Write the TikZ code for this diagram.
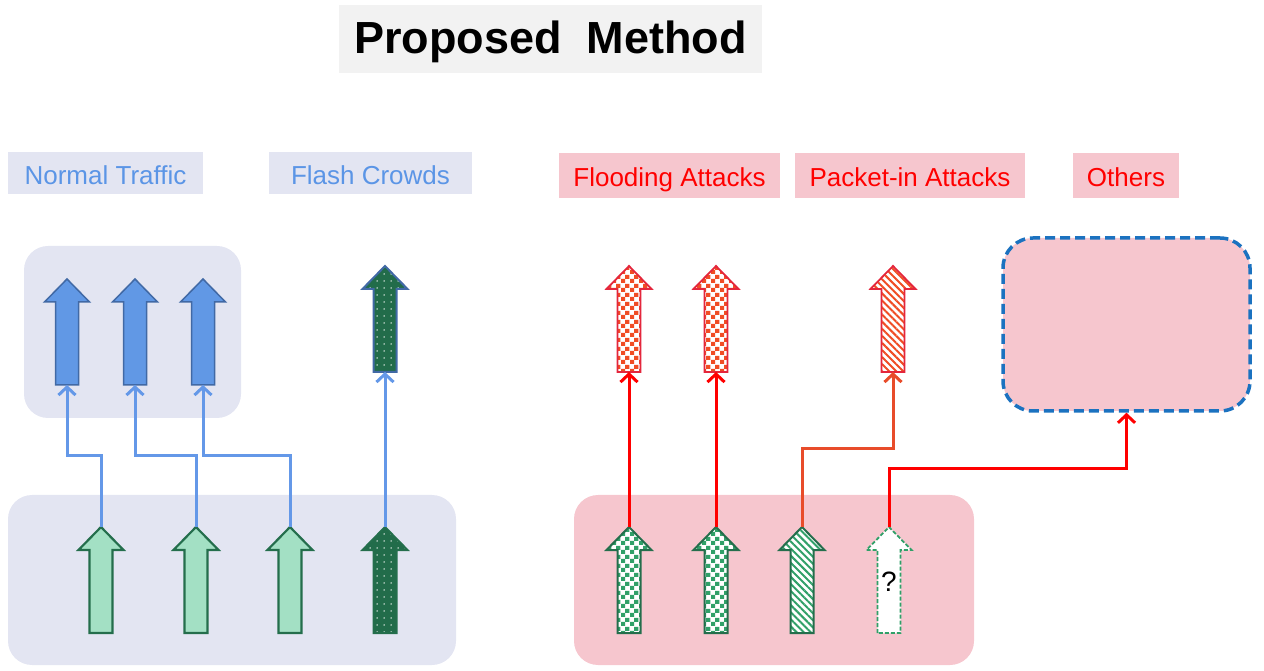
\documentclass[tikz,border=0pt]{standalone}
\usepackage{fontspec}
\setmainfont{Liberation Sans}
\usetikzlibrary{arrows.meta,patterns,patterns.meta}
\definecolor{lav}{RGB}{227,229,242}
\definecolor{pinkbg}{RGB}{246,198,206}
\definecolor{titlebg}{RGB}{242,242,242}
\definecolor{bluetxt}{RGB}{91,149,230}
\definecolor{blueline}{RGB}{100,152,232}
\definecolor{bluefill}{RGB}{97,152,229}
\definecolor{blueedge}{RGB}{65,105,165}
\definecolor{lightgreen}{RGB}{163,224,196}
\definecolor{greenedge}{RGB}{36,110,76}
\definecolor{darkgreen}{RGB}{34,108,74}
\definecolor{checkred}{RGB}{240,76,36}
\definecolor{edgered}{RGB}{228,38,60}
\definecolor{checkgreen}{RGB}{48,160,104}
\definecolor{orangered}{RGB}{232,76,42}
\definecolor{dashblue}{RGB}{27,114,192}

\tikzdeclarepattern{
  name=checkerfour,
  type=uncolored,
  bounding box={(0pt,0pt) and (9pt,9pt)},
  tile size={(9pt,9pt)},
  code={
    \fill (0pt,0pt) rectangle (4.5pt,4.5pt);
    \fill (4.5pt,4.5pt) rectangle (9pt,9pt);
  }
}

\newcommand\barrowshape[4]{%
  \path[#4] (#2-11.5,#3) -- (#2-11.5,#3+83) -- (#2-22.5,#3+83) -- (#2,#3+106)
    -- (#2+22.5,#3+83) -- (#2+11.5,#3+83) -- (#2+11.5,#3) -- cycle;
  \coordinate (#1-tail) at (#2,#3);
  \coordinate (#1-tip) at (#2,#3+106);
}

\tikzset{
  bluearr/.style={fill=bluefill, draw=blueedge, line width=1.5pt},
  lgarr/.style={fill=lightgreen, draw=greenedge, line width=2.2pt},
  dgarr/.style={preaction={fill=darkgreen}, pattern={Dots[distance=6.5pt,radius=0.8pt]}, pattern color=white, line width=2pt},
  redcheck/.style={preaction={fill=white}, pattern=checkerfour, pattern color=checkred, draw=edgered, line width=1.8pt},
  greencheck/.style={preaction={fill=white}, pattern=checkerfour, pattern color=checkgreen, draw=greenedge, line width=2pt},
  redstripe/.style={preaction={fill=white}, pattern={Lines[angle=-45,distance=5pt,line width=2pt]}, pattern color=checkred, draw=edgered, line width=1.8pt},
  greenstripe/.style={preaction={fill=white}, pattern={Lines[angle=-45,distance=5pt,line width=2pt]}, pattern color=checkgreen, draw=greenedge, line width=2pt},
  qarr/.style={fill=white, draw=checkgreen, line width=1.8pt, dash pattern=on 4pt off 2pt},
  conn/.style={line width=3pt, -{Straight Barb[length=8pt,width=17pt,line width=3pt]}},
  bconn/.style={conn, blueline},
  rconn/.style={conn, red},
  oconn/.style={conn, orangered},
  labelbase/.style={text height=23pt, text depth=0pt, font=\fontsize{26}{30}\selectfont},
  bluelabel/.style={labelbase, fill=lav, text=bluetxt, minimum height=42pt},
  redlabel/.style={labelbase, fill=pinkbg, text=red, minimum height=45pt},
  group/.style={rounded corners=24pt, inner sep=0pt},
}

\begin{document}
\begin{tikzpicture}[x=1pt,y=1pt]
\useasboundingbox (0,0) rectangle (1264,670);

% title
\node[fill=titlebg, minimum width=423pt, minimum height=68pt, text height=29.5pt, text depth=0pt, font=\fontsize{45}{54}\selectfont\bfseries] (title) at (550.5,631) {Proposed\ \ Method};

% labels
\node[bluelabel, minimum width=195pt] (lnormal) at (105.5,497) {Normal Traffic};
\node[bluelabel, minimum width=203pt] (lflash) at (370.5,496.5) {Flash Crowds};
\node[redlabel, minimum width=221pt] (lflood) at (669.5,494.5) {Flooding Attacks};
\node[redlabel, minimum width=230pt] (lpacket) at (910,494.5) {Packet-in Attacks};
\node[redlabel, minimum width=106pt] (lothers) at (1126,494.5) {Others};

% group boxes
\node[group, fill=lav, minimum width=217pt, minimum height=172pt] (gtop) at (132.5,338) {};
\node[group, fill=lav, minimum width=448pt, minimum height=170pt] (gbl) at (232,90) {};
\node[group, fill=pinkbg, minimum width=400pt, minimum height=170pt] (gbr) at (774,90) {};
\node[fill=pinkbg, draw=dashblue, line width=3.5pt, dash pattern=on 10pt off 5pt, rounded corners=30pt, minimum width=247pt, minimum height=173pt] (oth) at (1126.5,345.5) {};

% top arrows
\barrowshape{t1}{67}{285}{bluearr}
\barrowshape{t2}{135}{285}{bluearr}
\barrowshape{t3}{203}{285}{bluearr}
\barrowshape{f1}{385}{298}{dgarr, draw=blueedge}
\barrowshape{r1}{629}{298}{redcheck}
\barrowshape{r2}{716}{298}{redcheck}
\barrowshape{p1}{893}{298}{redstripe}

% bottom arrows
\barrowshape{b1}{101}{37}{lgarr}
\barrowshape{b2}{196}{37}{lgarr}
\barrowshape{b3}{290}{37}{lgarr}
\barrowshape{b4}{385}{37}{dgarr, draw=greenedge}
\barrowshape{b5}{629}{37}{greencheck}
\barrowshape{b6}{716}{37}{greencheck}
\barrowshape{b7}{802}{37}{greenstripe}
\barrowshape{b8}{889}{37}{qarr}
\node[font=\fontsize{28}{32}\selectfont] (qmark) at (889,88) {?};

% connectors
\draw[bconn] (b1-tip) -- ++(0,71) -| (t1-tail);
\draw[bconn] (b2-tip) -- ++(0,71) -| (t2-tail);
\draw[bconn] (b3-tip) -- ++(0,71) -| (t3-tail);
\draw[bconn] (b4-tip) -- (f1-tail);
\draw[rconn] (b5-tip) -- (r1-tail);
\draw[rconn] (b6-tip) -- (r2-tail);
\draw[oconn] (b7-tip) -- ++(0,78) -| (p1-tail);
\draw[rconn] (b8-tip) -- ++(0,58) -| (oth.south);
\end{tikzpicture}
\end{document}
